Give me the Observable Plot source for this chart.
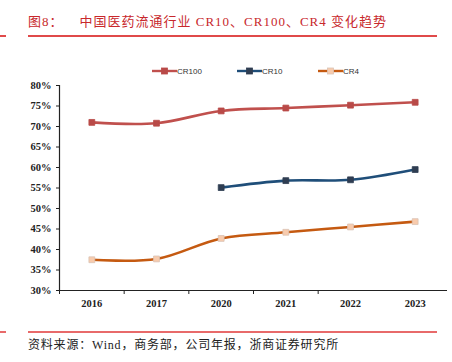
<!DOCTYPE html>
<html>
<head>
<meta charset="utf-8">
<script src="https://cdn.jsdelivr.net/npm/d3@7"></script>
<script src="https://cdn.jsdelivr.net/npm/@observablehq/plot@0.6"></script>
<style>
  html, body { margin: 0; padding: 0; background: #fff; }
  #page { position: relative; width: 452px; height: 362px; overflow: hidden; background: #fff; }
  #chart { position: absolute; left: 0; top: 0; }
  .title { position: absolute; left: 28px; top: 13px; font-family: "Liberation Serif", "Noto Sans CJK SC", serif; font-size: 13px; color: #c8282c; letter-spacing: 1px; white-space: nowrap; line-height: 18px; }
  .rule { position: absolute; height: 1.5px; background: #e04a4a; }
  .footer { position: absolute; left: 28px; top: 337px; font-family: "Liberation Serif", "Noto Sans CJK SC", serif; font-size: 12px; color: #222; letter-spacing: 0.8px; white-space: nowrap; line-height: 16px; }
  .legend { position: absolute; top: 66px; left: 0; font-family: "Liberation Sans", Arial, sans-serif; font-size: 8px; color: #333; }
  .item { position: absolute; display: flex; align-items: center; white-space: nowrap; }
</style>
</head>
<body>
<div id="page">
  <div id="chart"></div>
  <div class="title">图8：<span style="margin-left:16px">中国医药流通行业 CR10、CR100、CR4 变化趋势</span></div>
  <div class="rule" style="left:28px; top:35px; width:409px;"></div>
  <div class="rule" style="left:0px; top:35px; width:6px;"></div>
  <div class="legend" id="legend"></div>
  <div class="rule" style="left:28px; top:331px; width:409px; background:#e86a6a;"></div>
  <div class="rule" style="left:0px; top:331px; width:6px; background:#e86a6a;"></div>
  <div class="footer">资料来源：Wind，商务部，公司年报，浙商证券研究所</div>
</div>
<script>
// ---- data ----
const years = ["2016", "2017", "2020", "2021", "2022", "2023"];
const cr100 = [71.0, 70.8, 73.8, 74.5, 75.2, 75.9];
const cr10  = [null, null, 55.1, 56.8, 57.0, 59.5];
const cr4   = [37.5, 37.7, 42.7, 44.2, 45.5, 46.8];
const seriesNames = ["CR100", "CR10", "CR4"];
const yTicks = [30, 35, 40, 45, 50, 55, 60, 65, 70, 75, 80];

// ---- styles ----
const styles = {
  CR100: {line: "#c0504d", fill: "#b94a48", stroke: "#b94a48"},
  CR10:  {line: "#1f4e79", fill: "#2f3d52", stroke: "#2f3d52"},
  CR4:   {line: "#c55a11", fill: "#f8cbad", stroke: "#d9c3b5"}
};

const valuesBy = {CR100: cr100, CR10: cr10, CR4: cr4};
const rows = [];
for (const s of seriesNames) {
  valuesBy[s].forEach((v, i) => { if (v != null) rows.push({series: s, i, year: years[i], v}); });
}

const boundaries = years.slice(0, -1).map((_, i) => i - 0.5);
const centers = years.map((_, i) => i);

const marks = [
  Plot.axisY({ticks: yTicks, tickFormat: d => d + "%", tickSize: 3, tickPadding: 5, label: null}),
  Plot.axisX({ticks: boundaries, tickSize: 4, tickFormat: () => "", label: null}),
  Plot.axisX({ticks: centers, tickSize: 0, tickPadding: 9, tickFormat: i => years[i], label: null}),
  Plot.ruleX([-0.5], {y1: 30, y2: 80, stroke: "#222", strokeWidth: 1.2}),
  Plot.ruleY([30], {stroke: "#222", strokeWidth: 1.2})
];
for (const s of seriesNames) {
  const d = rows.filter(r => r.series === s);
  marks.push(Plot.line(d, {x: "i", y: "v", stroke: styles[s].line, strokeWidth: 2.6, curve: "catmull-rom"}));
  marks.push(Plot.dot(d, {x: "i", y: "v", symbol: "square", r: 3.3, fill: styles[s].fill, stroke: styles[s].stroke, strokeWidth: 0.8}));
}

const chart = Plot.plot({
  width: 452,
  height: 362,
  marginTop: 85,
  marginBottom: 72,
  marginLeft: 59,
  marginRight: 5,
  x: {type: "linear", domain: [-0.5, 5.5], axis: null, label: null},
  y: {domain: [30, 80], axis: null, label: null},
  style: {fontFamily: "Liberation Serif, serif", fontSize: "10.5px", fontWeight: "bold", color: "#222", background: "transparent"},
  marks
});
document.getElementById("chart").appendChild(chart);

// ---- legend ----
const legendPos = {CR100: 152, CR10: 237, CR4: 318};
const legend = document.getElementById("legend");
for (const s of seriesNames) {
  const item = document.createElement("div");
  item.className = "item";
  item.style.left = legendPos[s] + "px";
  item.innerHTML = `<svg width="25" height="10" style="display:block"><line x1="0" y1="5" x2="25" y2="5" stroke="${styles[s].line}" stroke-width="2.4"/><rect x="9.5" y="2" width="6" height="6" fill="${styles[s].fill}" stroke="${styles[s].stroke}" stroke-width="0.8"/></svg><span style="margin-left:0px">${s}</span>`;
  legend.appendChild(item);
}
</script>
</body>
</html>
